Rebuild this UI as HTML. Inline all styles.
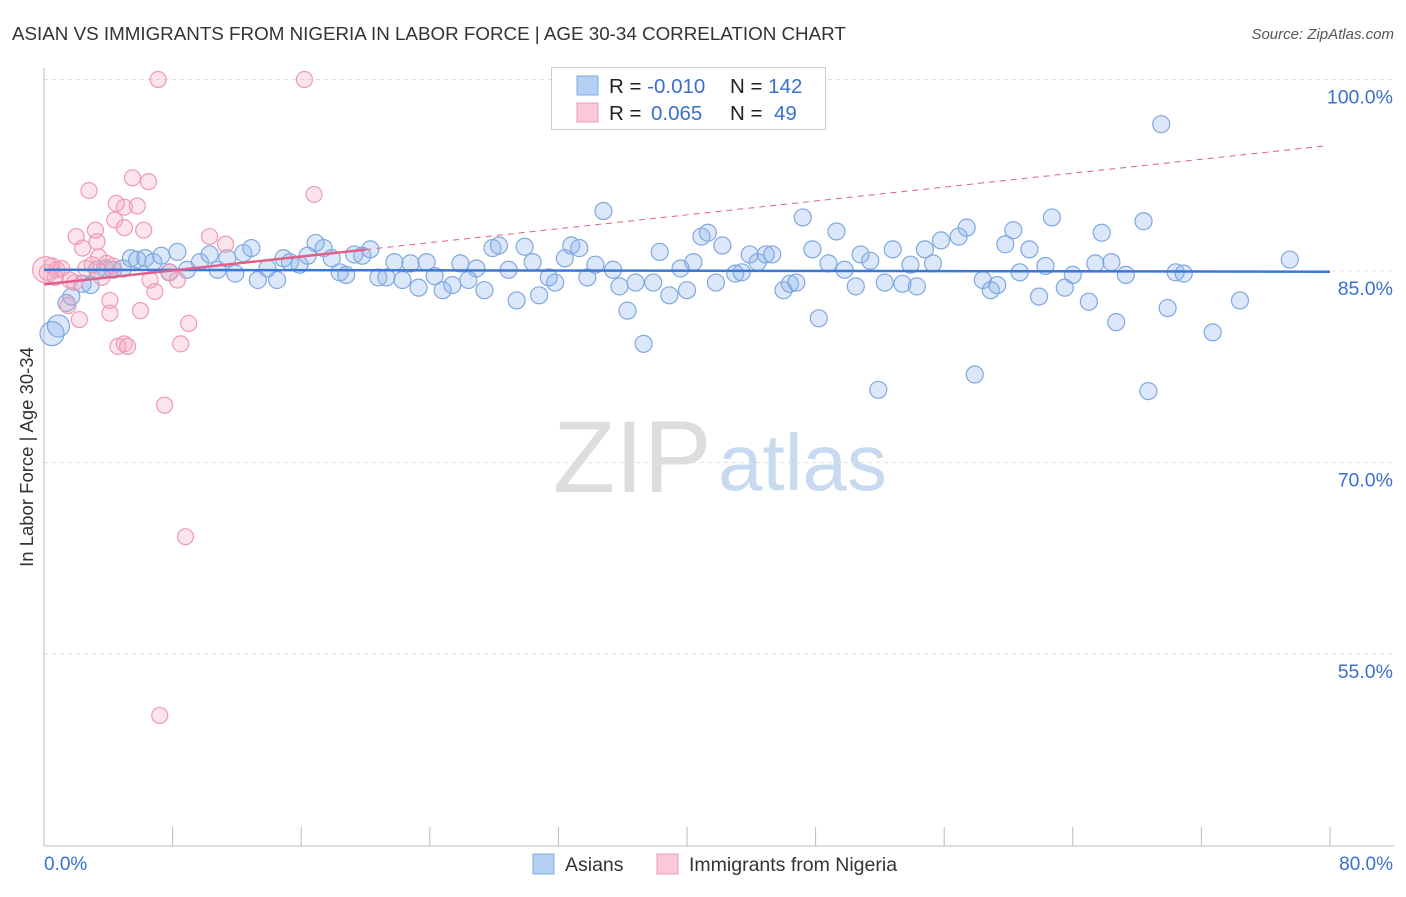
<!DOCTYPE html>
<html><head><meta charset="utf-8"><style>
body{margin:0;background:#fff;font-family:"Liberation Sans",sans-serif}
svg text{font-family:"Liberation Sans",sans-serif}
</style></head><body>
<svg id="chart" width="1406" height="892" viewBox="0 0 1406 892">
<text x="12" y="40" font-size="18.8" fill="#333">ASIAN VS IMMIGRANTS FROM NIGERIA IN LABOR FORCE | AGE 30-34 CORRELATION CHART</text>
<text x="1394" y="39" font-size="15" fill="#555" font-style="italic" text-anchor="end">Source: ZipAtlas.com</text>
<g>
<text x="553" y="492" font-size="102" fill="#ddd" font-family="Liberation Serif">ZIP</text>
<text x="718" y="490" font-size="80" fill="#c8daf0">atlas</text>
</g>
<g id="grid"></g>
<g id="axes"></g>
<g id="marks"></g>
<text x="33" y="457" font-size="18.5" fill="#333" text-anchor="middle" transform="rotate(-90 33 457)">In Labor Force | Age 30-34</text>
<g>
<rect x="551.5" y="67.5" width="274" height="62" fill="#fff" stroke="#ccc"/>
<rect x="577" y="76" width="21" height="19" fill="#b5d0f3" stroke="#7fa8e0"/>
<rect x="577" y="103" width="21" height="19" fill="#f9c9d8" stroke="#ee9ab5"/>
<text x="609" y="93" font-size="20.5" fill="#222">R = <tspan fill="#3a70cc">-0.010</tspan></text>
<text x="730" y="93" font-size="20.5" fill="#222">N = <tspan fill="#3a70cc">142</tspan></text>
<text x="609" y="120" font-size="20.5" fill="#222">R = <tspan fill="#3a70cc" x="651">0.065</tspan></text>
<text x="730" y="120" font-size="20.5" fill="#222">N = <tspan fill="#3a70cc" x="774">49</tspan></text>
</g>
<g>
<rect x="533" y="854" width="21" height="20" fill="#b5d0f3" stroke="#7fa8e0"/>
<text x="565" y="871" font-size="19.5" fill="#333">Asians</text>
<rect x="657" y="854" width="21" height="20" fill="#f9c9d8" stroke="#ee9ab5"/>
<text x="689" y="871" font-size="19.5" fill="#333">Immigrants from Nigeria</text>
</g>
</svg>
<script>
const yTicks=[100,85,70,55];
const yTickLabels=["100.0%","85.0%","70.0%","55.0%"];
const xTickVals=[0,8,16,24,32,40,48,56,64,72,80];
const blueX=[0.5,0.9,1.4,1.7,2.4,2.9,3.3,3.8,4.3,4.9,5.4,5.8,6.3,6.8,7.3,7.8,8.3,8.9,9.7,10.3,10.8,11.4,11.9,12.4,12.9,13.3,13.9,14.5,14.9,15.3,15.9,16.4,16.9,17.4,17.9,18.4,18.8,19.3,19.8,20.3,20.8,21.3,21.8,22.3,22.8,23.3,23.8,24.3,24.8,25.4,25.9,26.4,26.9,27.4,27.9,28.3,28.9,29.4,29.9,30.4,30.8,31.4,31.8,32.4,32.8,33.3,33.8,34.3,34.8,35.4,35.8,36.3,36.8,37.3,37.9,38.3,38.9,39.6,40.0,40.4,40.9,41.3,41.8,42.2,43.0,43.4,43.9,44.4,44.9,45.3,46.0,46.4,46.8,47.2,47.8,48.2,48.8,49.3,49.8,50.5,50.8,51.4,52.3,52.8,53.4,53.9,54.3,54.8,55.3,55.8,56.9,57.4,57.9,58.4,58.9,59.3,59.8,60.3,60.7,61.3,61.9,62.3,62.7,63.5,64.0,65.0,65.4,65.8,66.4,66.7,67.3,68.4,68.7,69.5,69.9,70.4,70.9,72.7,74.4,77.5,51.9];
const blueY=[80.1,80.7,82.5,83.0,84.0,83.9,85.1,85.2,85.1,85.2,86.0,85.9,86.0,85.7,86.2,84.9,86.5,85.1,85.7,86.3,85.1,86.0,84.8,86.4,86.8,84.3,85.2,84.3,86.0,85.7,85.5,86.2,87.2,86.8,86.0,84.9,84.7,86.3,86.2,86.7,84.5,84.5,85.7,84.3,85.6,83.7,85.7,84.6,83.5,83.9,85.6,84.3,85.2,83.5,86.8,87.0,85.1,82.7,86.9,85.7,83.1,84.5,84.1,86.0,87.0,86.8,84.5,85.5,89.7,85.1,83.8,81.9,84.1,79.3,84.1,86.5,83.1,85.2,83.5,85.7,87.7,88.0,84.1,87.0,84.8,84.9,86.3,85.7,86.3,86.3,83.5,84.0,84.1,89.2,86.7,81.3,85.6,88.1,85.1,83.8,86.3,85.8,84.1,86.7,84.0,85.5,83.8,86.7,85.6,87.4,87.7,88.4,76.9,84.3,83.5,83.9,87.1,88.2,84.9,86.7,83.0,85.4,89.2,83.7,84.7,82.6,85.6,88.0,85.7,81.0,84.7,88.9,75.6,96.5,82.1,84.9,84.8,80.2,82.7,85.9,75.7];
const pinkX=[7.1,16.2,2.8,5.5,6.5,16.8,4.5,5.0,5.8,2.0,3.2,4.4,10.3,11.3,2.4,3.3,5.0,6.2,0.5,0.8,0.2,1.1,1.9,2.6,3.6,3.9,0.7,1.5,2.2,4.1,4.1,6.0,6.9,6.6,8.3,7.8,9.0,4.6,5.0,5.2,8.5,7.5,8.8,7.2,3.4,1.6,3.0,4.3,0.1];
const pinkY=[100,100,91.3,92.3,92.0,91.0,90.3,90.0,90.1,87.7,88.2,89.0,87.7,87.1,86.8,87.3,88.4,88.2,85.4,85.1,84.9,85.2,84.1,85.2,84.5,85.6,84.5,82.3,81.2,82.7,81.7,81.9,83.4,84.3,84.3,84.9,80.9,79.1,79.3,79.1,79.3,74.5,64.2,50.2,86.1,84.3,85.5,85.4,85.1];
const blueTrend=[85.1,84.95];
const pinkTrend=[83.96,0.136];
const NS="http://www.w3.org/2000/svg";
const X0=44,X1=1330,YT=79.5,SY=12.77;
const sx=v=>X0+v*(X1-X0)/80;
const sy=v=>YT+(100-v)*SY;
function mk(tag,attrs,parent){const e=document.createElementNS(NS,tag);for(const k in attrs)e.setAttribute(k,attrs[k]);parent.appendChild(e);return e;}
const grid=document.getElementById('grid'),axes=document.getElementById('axes'),marks=document.getElementById('marks');
yTicks.forEach((t,i)=>{
 const l=mk('line',{x1:X0,x2:1394,y1:sy(t),y2:sy(t),stroke:'#ddd','stroke-dasharray':'4 4'},grid);
 
 
 const tx=mk('text',{x:1393,y:sy(t)+24,'font-size':19.5,fill:'#3a70cc','text-anchor':'end'},axes);
 tx.textContent=yTickLabels[i];
 
 
});
const ax=mk('line',{x1:X0,x2:X0,y1:68,y2:846,stroke:'#bbb'},axes);


const bx=mk('line',{x1:X0,x2:1394,y1:846,y2:846,stroke:'#bbb'},axes);


xTickVals.forEach(t=>{
 const l=mk('line',{x1:sx(t),x2:sx(t),y1:827,y2:846,stroke:'#bbb'},axes);
 
 
});
const xl0=mk('text',{x:44,y:870,'font-size':19,fill:'#3a70cc'},axes);xl0.textContent='0.0%';


const xl1=mk('text',{x:1393,y:870,'font-size':19,fill:'#3a70cc','text-anchor':'end'},axes);xl1.textContent='80.0%';


const big={0:12,1:11};
blueX.forEach((x,i)=>{
 const c=mk('circle',{cx:sx(x),cy:sy(blueY[i]),r:big[i]||8.5,fill:'rgba(140,180,235,0.3)',stroke:'#7fa8e0','stroke-width':1.2},marks);
 
 
});
pinkX.forEach((x,i)=>{
 const c=mk('circle',{cx:sx(x),cy:sy(pinkY[i]),r:i===pinkX.length-1?13:8,fill:'rgba(245,165,190,0.3)',stroke:'#ee9ab5','stroke-width':1.2},marks);
 
 
});
const bt=mk('line',{x1:sx(0),x2:sx(80),y1:sy(blueTrend[0]),y2:sy(blueTrend[1]),stroke:'#3a78d8','stroke-width':2.5},marks);


const pf=x=>pinkTrend[0]+pinkTrend[1]*x;
const ps=mk('line',{x1:sx(0),x2:sx(20),y1:sy(pf(0)),y2:sy(pf(20)),stroke:'#e0608a','stroke-width':2.5},marks);


const pd=mk('line',{x1:sx(20),x2:sx(79.7),y1:sy(pf(20)),y2:sy(pf(79.7)),stroke:'#e0608a','stroke-width':1,'stroke-dasharray':'6 5'},marks);


</script>
</body></html>
